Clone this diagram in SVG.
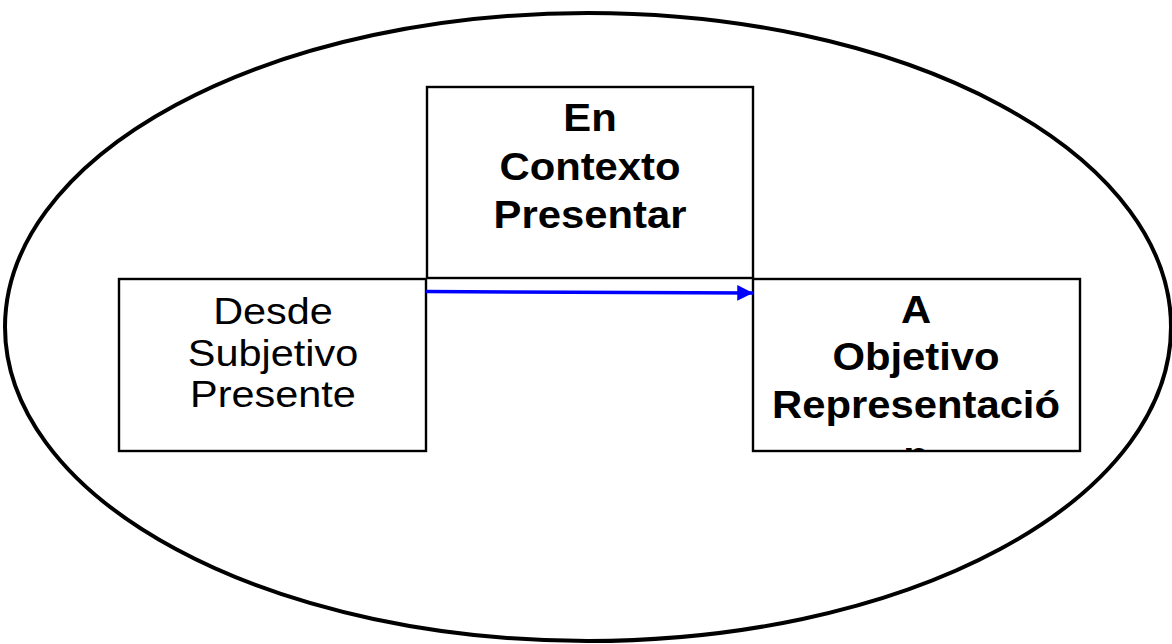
<svg xmlns="http://www.w3.org/2000/svg" width="1172" height="644" viewBox="0 0 1172 644">
<style>
.box{fill:#fff;stroke:#000;stroke-width:2.4}
.b{font-family:"Liberation Sans",Arial,sans-serif;font-weight:bold;font-size:38px;fill:#000;text-anchor:middle}
.r{font-family:"Liberation Sans",Arial,sans-serif;font-size:37px;fill:#000;text-anchor:middle}
.conn{stroke:#0000ff;stroke-width:3.5;fill:none}
</style>
<defs>
<marker id="ah" markerWidth="4.6" markerHeight="4.6" refX="4.5" refY="2.25" orient="auto" markerUnits="strokeWidth">
<path d="M0,0 L4.5,2.25 L0,4.5 Z" fill="#0000ff"/>
</marker>
<clipPath id="clipR"><rect x="753" y="279" width="327" height="171"/></clipPath>
</defs>
<rect width="1172" height="644" fill="#fff"/>
<ellipse id="frame" cx="588" cy="327" rx="583" ry="314" fill="none" stroke="#000" stroke-width="4"/>
<g id="node-top">
<rect class="box" x="427" y="87" width="326" height="191"/>
<text class="b" transform="translate(590,131) scale(1.1,1)">En</text>
<text class="b" transform="translate(590,180) scale(1.1,1)">Contexto</text>
<text class="b" transform="translate(590,228) scale(1.1,1)">Presentar</text>
</g>
<g id="node-left">
<rect class="box" x="119" y="279" width="307" height="172"/>
<text class="r" transform="translate(273,324) scale(1.12,1)">Desde</text>
<text class="r" transform="translate(273,366) scale(1.12,1)">Subjetivo</text>
<text class="r" transform="translate(273,407) scale(1.12,1)">Presente</text>
</g>
<g id="node-right">
<rect class="box" x="753" y="279" width="327" height="172"/>
<g clip-path="url(#clipR)">
<text class="b" transform="translate(916,323) scale(1.1,1)">A</text>
<text class="b" transform="translate(916,370) scale(1.1,1)">Objetivo</text>
<text class="b" transform="translate(916,418) scale(1.1,1)">Representació</text>
<text class="b" transform="translate(916,469) scale(1.1,1)">n</text>
</g>
</g>
<g id="connectors">
<line class="conn" x1="426" y1="291.5" x2="753" y2="293" marker-end="url(#ah)"/>
</g>
</svg>
